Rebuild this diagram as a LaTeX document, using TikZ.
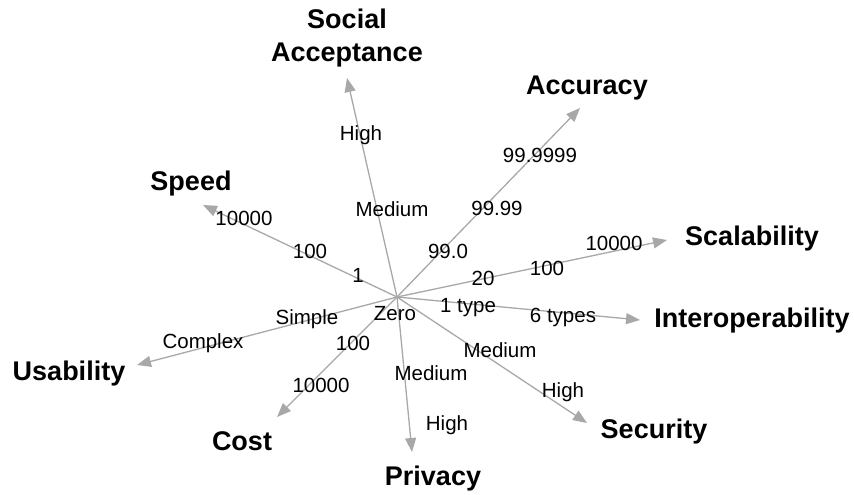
\documentclass[tikz,border=0pt]{standalone}
\usepackage{fontspec}
\setmainfont{Liberation Sans}
\usetikzlibrary{arrows.meta}
\definecolor{axisgray}{RGB}{168,168,168}

\begin{document}
\begin{tikzpicture}[x=1pt,y=-1pt,>={Triangle[length=14pt,width=11pt]}]
\tikzstyle{axis}=[draw=axisgray,line width=1.3pt,->]
\tikzstyle{dim}=[font=\fontsize{27}{33}\selectfont\bfseries,inner sep=0pt]
\tikzstyle{val}=[font=\fontsize{20.5}{24}\selectfont,anchor=base,inner sep=0pt]
\useasboundingbox (0,0) rectangle (854,495);
\coordinate (o) at (397,297);
% axis ends
\coordinate (soc) at (347,78);
\coordinate (acc) at (580,108);
\coordinate (sca) at (667,240);
\coordinate (int) at (640,320);
\coordinate (sec) at (587,423);
\coordinate (pri) at (412,452);
\coordinate (cos) at (277,417);
\coordinate (usa) at (137,365);
\coordinate (spe) at (203,205);
\draw[axis] (o) to (soc);
\draw[axis] (o) to (acc);
\draw[axis] (o) to (sca);
\draw[axis] (o) to (int);
\draw[axis] (o) to (sec);
\draw[axis] (o) to (pri);
\draw[axis] (o) to (cos);
\draw[axis] (o) to (usa);
\draw[axis] (o) to (spe);
% dimension names
\node[dim,align=center] (socl) at (347,38) {Social\\Acceptance};
\node[dim,anchor=base] (accl) at (587,95) {Accuracy};
\node[dim,anchor=base] (scal) at (752,245) {Scalability};
\node[dim,anchor=base] (intl) at (752,327) {Interoperability};
\node[dim,anchor=base] (secl) at (654,438) {Security};
\node[dim,anchor=base] (pril) at (433,485) {Privacy};
\node[dim,anchor=base] (cosl) at (242,450) {Cost};
\node[dim,anchor=base] (usal) at (69,380) {Usability};
\node[dim,anchor=base] (spel) at (191,190) {Speed};
% values along the axes
\node[val] (zero) at (395,320) {Zero};
\node[val] (soc1) at (392,216) {Medium};
\node[val] (soc2) at (361,140) {High};
\node[val] (acc1) at (448,258) {99.0};
\node[val] (acc2) at (497,215) {99.99};
\node[val] (acc3) at (540,162) {99.9999};
\node[val] (sca1) at (483,285) {20};
\node[val] (sca2) at (547,275) {100};
\node[val] (sca3) at (614,250) {10000};
\node[val] (int1) at (468,312) {1 type};
\node[val] (int2) at (563,322) {6 types};
\node[val] (sec1) at (500,357) {Medium};
\node[val] (sec2) at (563,397) {High};
\node[val] (pri1) at (431,380) {Medium};
\node[val] (pri2) at (447,430) {High};
\node[val] (cos1) at (353,350) {100};
\node[val] (cos2) at (321,392) {10000};
\node[val] (usa1) at (307,324) {Simple};
\node[val] (usa2) at (203,348) {Complex};
\node[val] (spe1) at (358,282) {1};
\node[val] (spe2) at (310,258) {100};
\node[val] (spe3) at (244,225) {10000};
\end{tikzpicture}
\end{document}
